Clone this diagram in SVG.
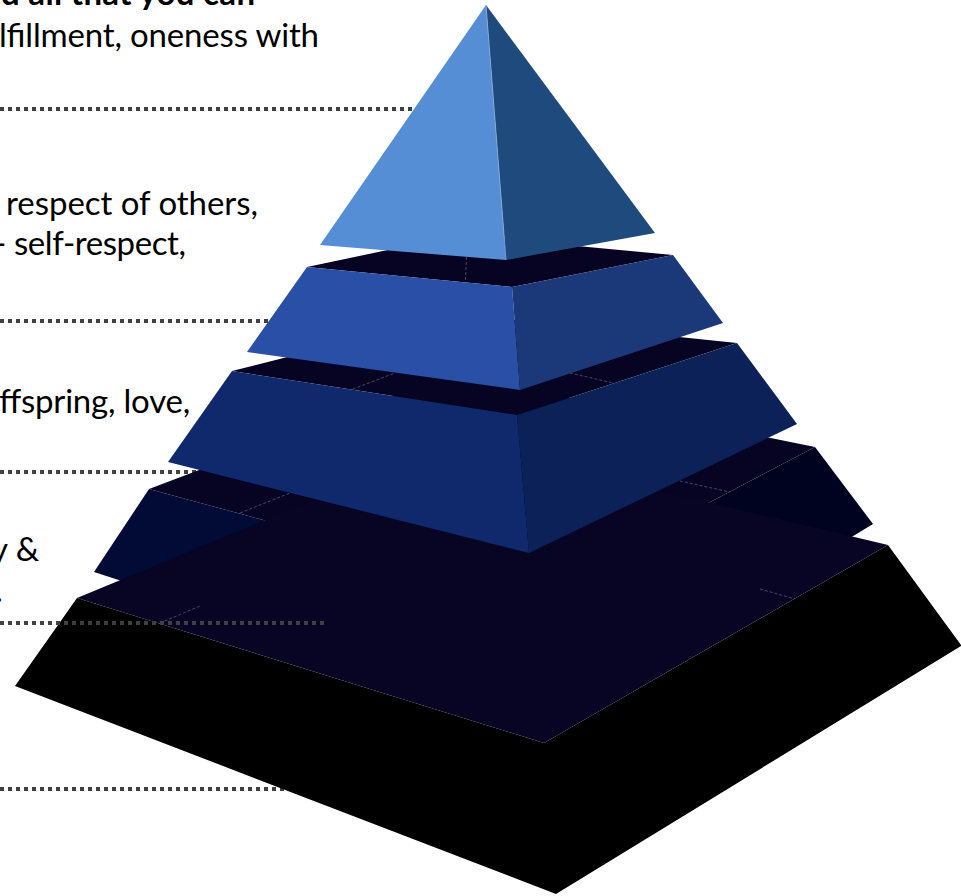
<svg xmlns="http://www.w3.org/2000/svg" width="961" height="896" viewBox="0 0 961 896">
<style>
.t{font-family:Lato,"Liberation Sans",sans-serif;font-size:33px;fill:#000}
.b{font-weight:bold}
.dot{stroke:#404040;stroke-width:4;stroke-dasharray:4 4;fill:none}
.seam{stroke:#7c7c9c;stroke-width:0.8;stroke-dasharray:3 2;fill:none;opacity:0.7}
.top{fill:#070323}
</style>
<rect width="961" height="896" fill="#ffffff"/>
<g id="connectors-under">
<line class="dot" x1="0" y1="109" x2="420" y2="109"/>
<line class="dot" x1="0" y1="321" x2="280" y2="321"/>
<line class="dot" x1="0" y1="472" x2="210" y2="472"/>
<line class="dot" x1="0" y1="789" x2="300" y2="789"/>
</g>
<g id="layer5-sides">
<polygon points="77,598 544,743 888,545 961,645 961,646 556,894 15,686" fill="#000000"/>
</g>
<g id="layer4">
<polygon class="top" points="149,489 452,374 815,447 535,594"/>
<polygon points="149,489 535,594 550,720 94,572" fill="#020a36"/>
<polygon points="535,594 815,447 873,524 550,720" fill="#00031f"/>
</g>
<g id="layer5-top">
<polygon points="77,598 454,442 888,545 544,743" fill="#080424"/>
<line class="seam" x1="160" y1="623" x2="200" y2="606"/>
<line class="seam" x1="760" y1="589" x2="795" y2="599"/>
<line class="seam" x1="240" y1="513" x2="290" y2="493"/>
<line class="seam" x1="680" y1="481" x2="730" y2="492"/>
</g>
<g id="layer3">
<polygon class="top" points="232,371 457,314 737,343 517,415"/>
<line class="seam" x1="353" y1="389" x2="395" y2="373"/>
<line class="seam" x1="570" y1="373" x2="613" y2="383"/>
<polygon points="232,371 517,415 529,553 168,462" fill="#10296c"/>
<polygon points="517,415 737,343 797,424 529,553" fill="#0c2157"/>
</g>
<g id="layer2">
<polygon class="top" points="307,267 459,235 673,255 512,287"/>
<line class="seam" x1="466.5" y1="257" x2="465.3" y2="283"/>
<polygon points="307,267 512,287 520,390 247,352" fill="#2a4fa7"/>
<polygon points="512,287 673,255 723,323 520,390" fill="#1b3878"/>
</g>
<g id="layer1">
<polygon points="486,5 506,260 320,245" fill="#558ed5"/>
<polygon points="486,5 655,233 506,260" fill="#1f4a7e"/>
<line x1="486" y1="5" x2="506" y2="260" stroke="#8fb0dc" stroke-width="0.8"/>
</g>
<g id="connectors-over">
<line class="dot" x1="0" y1="623" x2="328" y2="623"/>
</g>
<g id="labels">
<text class="t b" x="-18" y="5" textLength="273">nd all that you can</text>
<text class="t" x="-1" y="47" textLength="320">lfillment, oneness with</text>
<text class="t" x="6" y="215" textLength="252">respect of others,</text>
<text class="t" x="-6" y="255" textLength="192">- self-respect,</text>
<text class="t" x="-1" y="413" textLength="191">ffspring, love,</text>
<text class="t" x="-9" y="561">y &amp;</text>
<text class="t" x="-5" y="602">.</text>
</g>
</svg>
